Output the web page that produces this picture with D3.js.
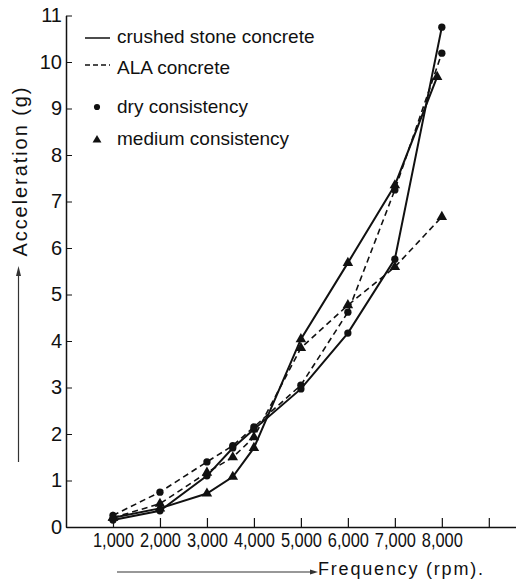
<!DOCTYPE html>
<html lang="en">
<head>
<meta charset="utf-8">
<title>Acceleration vs frequency</title>
<script src="https://d3js.org/d3.v7.min.js"></script>
<style>
  body { margin: 0; background: #fff; }
  svg text { font-family: "Liberation Sans", Arial, sans-serif; fill: #111; }
</style>
</head>
<body>
<div id="chart"></div>
<script>
// values (rpm, g)
var rpm = [1000, 2000, 3000, 3550, 4000, 5000, 6000, 7000, 8000]
var rpmCrushedMedium = [1000, 2000, 3000, 3550, 4000, 5000, 6000, 7000, 7900]
var crushedDry    = [0.15, 0.35, 1.1, 1.7, 2.1, 2.97, 4.17, 5.76, 10.75]
var crushedMedium = [0.2, 0.4, 0.72, 1.08, 1.7, 4.04, 5.68, 7.35, 9.68]
var alaDry        = [0.25, 0.75, 1.4, 1.75, 2.15, 3.05, 4.62, 7.25, 10.19]
var alaMedium     = [0.2, 0.5, 1.17, 1.5, 1.93, 3.85, 4.77, 5.59, 6.67]
var xTicks = [1000, 2000, 3000, 4000, 5000, 6000, 7000, 8000, 9000]
var yTicks = [0, 1, 2, 3, 4, 5, 6, 7, 8, 9, 10, 11]

var width = 516, height = 584

var svg = d3.select("#chart").append("svg")
  .attr("width", width)
  .attr("height", height)

var x = d3.scaleLinear().domain([0, 9600]).range([66, 517])
var y = d3.scaleLinear().domain([0, 11]).range([527, 15.5])

// axes
var xAxis = svg.append("g")
  .attr("transform", "translate(0," + y(0) + ")")
  .call(d3.axisBottom(x)
    .tickValues(xTicks)
    .tickSizeInner(-9).tickSizeOuter(0).tickPadding(6)
    .tickFormat(function(d) { return d <= 8000 ? d3.format(",")(d) : "" }))
xAxis.select(".domain").attr("stroke", "#111").attr("stroke-width", 1.5)
xAxis.selectAll(".tick line").attr("stroke", "#111").attr("stroke-width", 1.2)
xAxis.selectAll(".tick text")
  .attr("font-size", 20)
  .attr("fill", "#111")
  .each(function() {
    var w = this.getComputedTextLength()
    if (w > 0) d3.select(this).attr("textLength", w * 0.82).attr("lengthAdjust", "spacingAndGlyphs")
  })

var yAxis = svg.append("g")
  .attr("transform", "translate(" + x(0) + ",0)")
  .call(d3.axisLeft(y)
    .tickValues(yTicks)
    .tickSizeInner(-6).tickSizeOuter(0).tickPadding(4))
yAxis.select(".domain").attr("stroke", "#111").attr("stroke-width", 1.5)
yAxis.selectAll(".tick line").attr("stroke", "#111").attr("stroke-width", 1)
yAxis.selectAll(".tick text").attr("font-size", 20).attr("fill", "#111")

// series
var series = [
  {xs: rpm, ys: crushedDry, dash: null, mark: "dot"},
  {xs: rpmCrushedMedium, ys: crushedMedium, dash: null, mark: "tri"},
  {xs: rpm, ys: alaDry, dash: "6,4", mark: "dot"},
  {xs: rpm, ys: alaMedium, dash: "6,4", mark: "tri"}
]

var line = d3.line()
  .x(function(d) { return x(d[0]) })
  .y(function(d) { return y(d[1]) })

var dot = d3.symbol().type(d3.symbolCircle).size(42)
var tri = d3.symbol().type(d3.symbolTriangle).size(48)

series.forEach(function(s) {
  var pts = s.xs.map(function(v, i) { return [v, s.ys[i]] })
  svg.append("path")
    .datum(pts)
    .attr("d", line)
    .attr("fill", "none")
    .attr("stroke", "#111")
    .attr("stroke-width", s.dash ? 1.6 : 2)
    .attr("stroke-dasharray", s.dash)
  svg.selectAll(null)
    .data(pts)
    .enter().append("path")
    .attr("transform", function(d) { return "translate(" + x(d[0]) + "," + y(d[1]) + ")" })
    .attr("d", s.mark == "dot" ? dot : tri)
    .attr("fill", "#111")
})

// legend
var lg = svg.append("g")
lg.append("line").attr("x1", 85).attr("x2", 110).attr("y1", 38).attr("y2", 38)
  .attr("stroke", "#111").attr("stroke-width", 1.5)
lg.append("line").attr("x1", 85).attr("x2", 110).attr("y1", 65).attr("y2", 65)
  .attr("stroke", "#111").attr("stroke-width", 1.3).attr("stroke-dasharray", "5,3")
lg.append("path").attr("transform", "translate(97,107)").attr("d", d3.symbol().type(d3.symbolCircle).size(30)).attr("fill", "#111")
lg.append("path").attr("transform", "translate(97,140)").attr("d", d3.symbol().type(d3.symbolTriangle).size(34)).attr("fill", "#111")
var legendText = [["crushed stone concrete", 43], ["ALA concrete", 74], ["dry consistency", 113], ["medium consistency", 145]]
lg.selectAll("text").data(legendText).enter().append("text")
  .attr("x", 117).attr("y", function(d) { return d[1] })
  .attr("font-size", 19)
  .text(function(d) { return d[0] })

// axis titles with arrows
svg.append("text")
  .attr("transform", "translate(27,172) rotate(-90)")
  .attr("text-anchor", "middle")
  .attr("font-size", 20)
  .attr("textLength", 169).attr("lengthAdjust", "spacing")
  .text("Acceleration (g)")
svg.append("line").attr("x1", 18.5).attr("x2", 18.5).attr("y1", 272).attr("y2", 462)
  .attr("stroke", "#333").attr("stroke-width", 1.2)
svg.append("path").attr("d", "M18.5,266 L16,276 L21,276 Z").attr("fill", "#333")

svg.append("text")
  .attr("x", 318).attr("y", 575)
  .attr("font-size", 18)
  .attr("textLength", 165).attr("lengthAdjust", "spacing")
  .text("Frequency (rpm).")
svg.append("line").attr("x1", 117).attr("x2", 312).attr("y1", 572).attr("y2", 572)
  .attr("stroke", "#333").attr("stroke-width", 1.2)
svg.append("path").attr("d", "M318,572 L310,569.5 L310,574.5 Z").attr("fill", "#333")
</script>
</body>
</html>
